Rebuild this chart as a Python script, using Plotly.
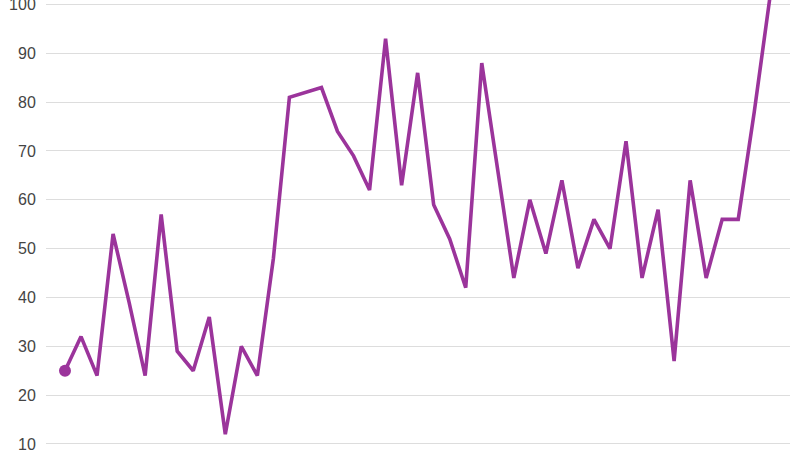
import plotly.graph_objects as go

values = [25, 32, 24, 53, 39, 24, 57, 29, 25, 36, 12, 30, 24, 48, 81, 82, 83, 74, 69, 62,
          93, 63, 86, 59, 52, 42, 88, 66, 44, 60, 49, 64, 46, 56, 50, 72, 44, 58, 27, 64,
          44, 56, 56, 78, 102]
positions = list(range(len(values)))
y_ticks = [10, 20, 30, 40, 50, 60, 70, 80, 90, 100]

line_color = "#9b349b"

fig = go.Figure()
fig.add_trace(go.Scatter(
    x=positions, y=values, mode="lines",
    line=dict(color=line_color, width=3.6),
    hoverinfo="skip", showlegend=False,
))
fig.add_trace(go.Scatter(
    x=positions[:1], y=values[:1], mode="markers",
    marker=dict(color=line_color, size=12),
    hoverinfo="skip", showlegend=False,
))

fig.update_layout(
    width=800, height=450,
    margin=dict(l=46, r=10, t=0, b=0),
    paper_bgcolor="white", plot_bgcolor="white",
    font=dict(family="Liberation Sans, Arial, sans-serif", size=16, color="#444444"),
    xaxis=dict(visible=False, range=[-1.185, 45.23]),
    yaxis=dict(
        range=[8.77, 100.92], tickvals=y_ticks, showgrid=True, gridcolor="#dddddd",
        gridwidth=1, zeroline=False, showline=False, ticks="outside", ticklen=6,
        tickcolor="rgba(0,0,0,0)", automargin=False, ticklabeloverflow="allow",
        tickfont=dict(size=16, color="#444444"),
    ),
)

fig.write_html(
    "out.html",
    config={"displayModeBar": False, "staticPlot": True},
    post_script="document.body.style.margin='0';document.body.style.overflow='hidden';",
)
